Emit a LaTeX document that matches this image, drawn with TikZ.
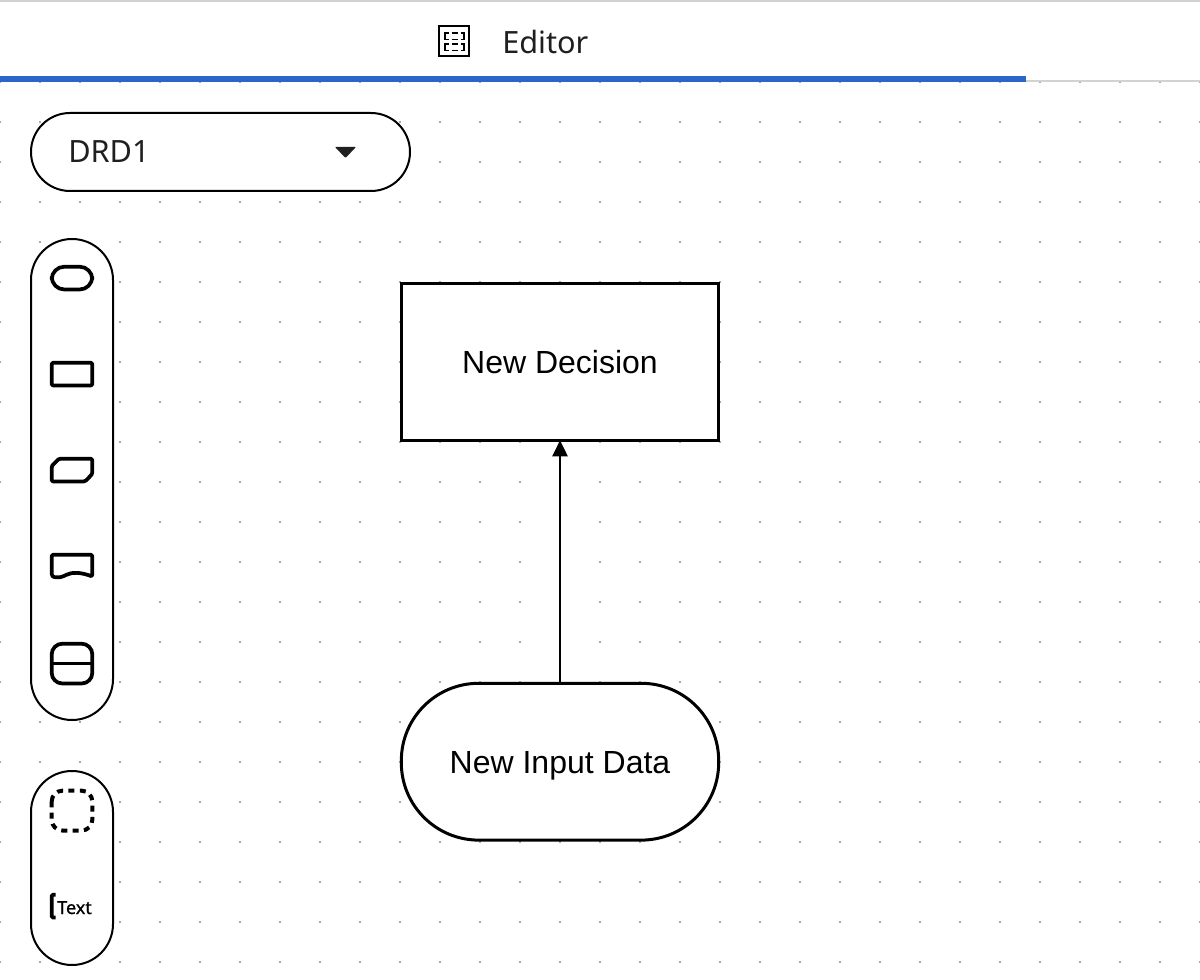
\documentclass[tikz,border=0pt]{standalone}
\usepackage{fontspec}
\setmainfont{Liberation Sans}
\newfontfamily\uifont{Noto Sans}
\newfontfamily\uifontheavy[FakeBold=0.8]{Noto Sans}
\usetikzlibrary{arrows.meta}
\definecolor{gridgray}{HTML}{A8A8A8}
\definecolor{rulegray}{HTML}{D2D2D2}
\definecolor{tabblue}{HTML}{2B65C9}
\definecolor{uiink}{HTML}{1F1F1F}
\tikzset{
  pillbox/.style={draw=black,line width=1.5pt,fill=white,rounded corners=#1},
  iconline/.style={draw=black,line width=2.8pt,line join=round,fill=white},
  dmnnode/.style={draw=black,fill=white,minimum width=238pt,minimum height=117.6pt,outer sep=0pt,inner sep=0pt,text height=20.5pt,text depth=3.5pt,font=\fontsize{24}{28}\selectfont},
  uitext/.style={inner sep=0pt,text=uiink,font=\uifont\fontsize{#1}{#1}\selectfont},
}
\begin{document}
\begin{tikzpicture}[x=0.75pt,y=-0.75pt]
\useasboundingbox (0,0) rectangle (1200,980);
\fill[white] (0,0) rectangle (1200,980);
% dot grid
\foreach \gx in {0,40,...,1200}{
  \foreach \gy in {82,122,...,962}{
    \fill[gridgray] (\gx-1,\gy-1) rectangle (\gx+1,\gy+1);
  }
}
% tab bar
\fill[rulegray] (0,0) rectangle (1200,2);
\fill[rulegray] (0,80) rectangle (1200,82);
\fill[tabblue] (0,76) rectangle (1026,82);
% editor icon
\draw[black,line width=1.5pt,fill=white] (439,26.5) rectangle (469,56.5);
\foreach \ry in {33,44}{
  \draw[black,line width=1.4pt] (448.5,\ry) -- (445,\ry) -- (445,\ry+6.5) -- (448.5,\ry+6.5);
  \draw[black,line width=1.4pt] (460.5,\ry) -- (464,\ry) -- (464,\ry+6.5) -- (460.5,\ry+6.5);
  \draw[black,line width=1.4pt] (451.5,\ry) -- (457.5,\ry);
  \draw[black,line width=1.4pt] (451.5,\ry+6.5) -- (457.5,\ry+6.5);
}
\node[uitext=23,anchor=base west] (editor) at (502,54) {Editor};
% diagram selector
\draw[pillbox=29.25pt] (31,113) rectangle (410,191);
\node[uitext=23,anchor=base west] (drd) at (68,163) {DRD1};
\fill[uiink,rounded corners=0.6pt] (335,147) -- (356,147) -- (345.5,158) -- cycle;
% palette
\draw[pillbox=30.75pt] (31,239) rectangle (113,720);
\draw[pillbox=30.75pt] (31,771) rectangle (113,965);
\draw[iconline,rounded corners=9.5pt] (51.7,266.7) rectangle (92.3,289.5);
\draw[iconline,rounded corners=1pt] (51.7,362.7) rectangle (92.3,385.5);
\draw[iconline,rounded corners=1pt] (59,458.7) -- (92.3,458.7) -- (92.3,474) -- (85,481.5) -- (51.7,481.5) -- (51.7,466) -- cycle;
\draw[iconline,rounded corners=1pt] (51.7,554.7) -- (92.3,554.7) -- (92.3,576.5) .. controls (80,572) and (72,572) .. (65,575.5) .. controls (60,578) and (54,577.5) .. (51.7,575.5) -- cycle;
\draw[iconline,rounded corners=8pt] (51.7,643.7) rectangle (92.3,683.5);
\draw[black,line width=2.3pt] (51.7,663.5) -- (92.3,663.5);
\draw[black,line width=3pt,dash pattern=on 4.5pt off 4pt,rounded corners=8pt] (51.7,790.7) rectangle (92.3,830.5);
\draw[black,line width=2.8pt,rounded corners=1pt] (55.5,894.7) -- (51.7,894.7) -- (51.7,917.5) -- (55.5,917.5);
\node[inner sep=0pt,anchor=base west,font=\uifontheavy\fontsize{13.5}{14}\selectfont] (txt) at (57,914) {Text};
% DRD
\node[dmnnode,line width=2.25pt] (decision) at (560,362) {New Decision};
\node[dmnnode,line width=2.25pt,rounded corners=58pt] (input) at (560,761.7) {New Input Data};
\draw[black,line width=1.5pt,-{Triangle[length=12pt,width=11.5pt]}] (input.north) -- (decision.south);
\end{tikzpicture}
\end{document}
